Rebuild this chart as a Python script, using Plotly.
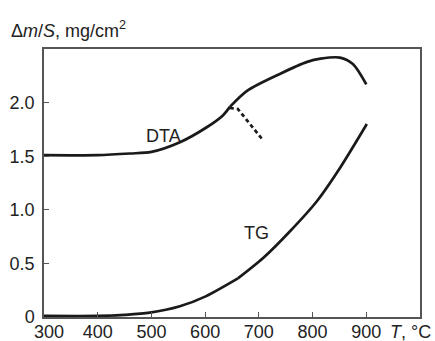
import plotly.graph_objects as go

# DTA curve (two segments meeting at the kink)
dta1_T = [300, 400, 460, 500, 553, 603, 633, 646]
dta1_v = [1.51, 1.51, 1.525, 1.54, 1.63, 1.77, 1.88, 1.96]
dta2_T = [646, 678, 740, 790, 815, 851, 875, 900]
dta2_v = [1.96, 2.11, 2.27, 2.38, 2.41, 2.42, 2.36, 2.17]
# dashed extrapolation
dash_T = [646, 661, 706]
dash_v = [1.95, 1.94, 1.66]
# TG curve (two segments)
tg1_T = [300, 400, 450, 497, 553, 600, 661]
tg1_v = [0.01, 0.01, 0.02, 0.04, 0.10, 0.19, 0.36]
tg2_T = [661, 708, 758, 808, 851, 901]
tg2_v = [0.36, 0.55, 0.80, 1.08, 1.39, 1.80]

x_ticks = [300, 400, 500, 600, 700, 800, 900]
x_ticktext = ["\u00a0\u00a0300", "400", "500", "600", "700", "800", "900"]
y_ticks = [0, 0.5, 1.0, 1.5, 2.0]
y_ticktext = ["0", "0.5", "1.0", "1.5", "2.0"]

LINE = "#1a1a1a"
FONT = "Liberation Sans, Arial, sans-serif"

fig = go.Figure()
for T, v in [(dta1_T, dta1_v), (dta2_T, dta2_v), (tg1_T, tg1_v), (tg2_T, tg2_v)]:
    fig.add_trace(go.Scatter(x=T, y=v, mode="lines",
                             line=dict(color=LINE, width=2.7, shape="spline", smoothing=0.8),
                             showlegend=False, hoverinfo="skip"))
fig.add_trace(go.Scatter(x=dash_T, y=dash_v, mode="lines",
                         line=dict(color=LINE, width=2.7, dash="4px,3px"),
                         showlegend=False, hoverinfo="skip"))

fig.update_layout(
    width=435, height=341,
    margin=dict(l=44, r=15, t=49, b=24),
    paper_bgcolor="white", plot_bgcolor="white",
    font=dict(family=FONT, size=18, color="#222"),
    xaxis=dict(range=[300, 1000], tickvals=x_ticks, ticktext=x_ticktext,
               ticks="inside", ticklen=5,
               tickcolor="#555", tickwidth=1.2, showgrid=False, zeroline=False,
               showline=True, linecolor="#555", linewidth=1.5, mirror=True,
               ticklabelstandoff=-2, automargin=False,
               tickfont=dict(size=18, family=FONT, color="#222")),
    yaxis=dict(range=[0, 2.5], tickvals=y_ticks, ticktext=y_ticktext, ticks="inside",
               ticklen=5, tickcolor="#555", tickwidth=1.2, showgrid=False, zeroline=False,
               showline=True, linecolor="#555", linewidth=1.5, mirror=True,
               ticklabelstandoff=4, automargin=False,
               tickfont=dict(size=18, family=FONT, color="#222")),
    annotations=[
        dict(text="Δ<i>m</i>/<i>S</i>, mg/cm<sup>2</sup>", xref="paper", yref="paper",
             x=-0.094, y=1.0, xanchor="left", yanchor="bottom", yshift=6, showarrow=False,
             font=dict(size=18, family=FONT, color="#222")),
        dict(text="<i>T</i>, °C", xref="paper", yref="paper", x=1.035, y=0,
             xanchor="right", yanchor="top", yshift=-3, showarrow=False,
             font=dict(size=18, family=FONT, color="#222")),
        dict(text="DTA", xref="x", yref="y", x=523, y=1.69, showarrow=False,
             font=dict(size=18, family=FONT, color="#222")),
        dict(text="TG", xref="x", yref="y", x=695, y=0.78, showarrow=False,
             font=dict(size=18, family=FONT, color="#222")),
    ],
)

fig.write_html("out.html")
